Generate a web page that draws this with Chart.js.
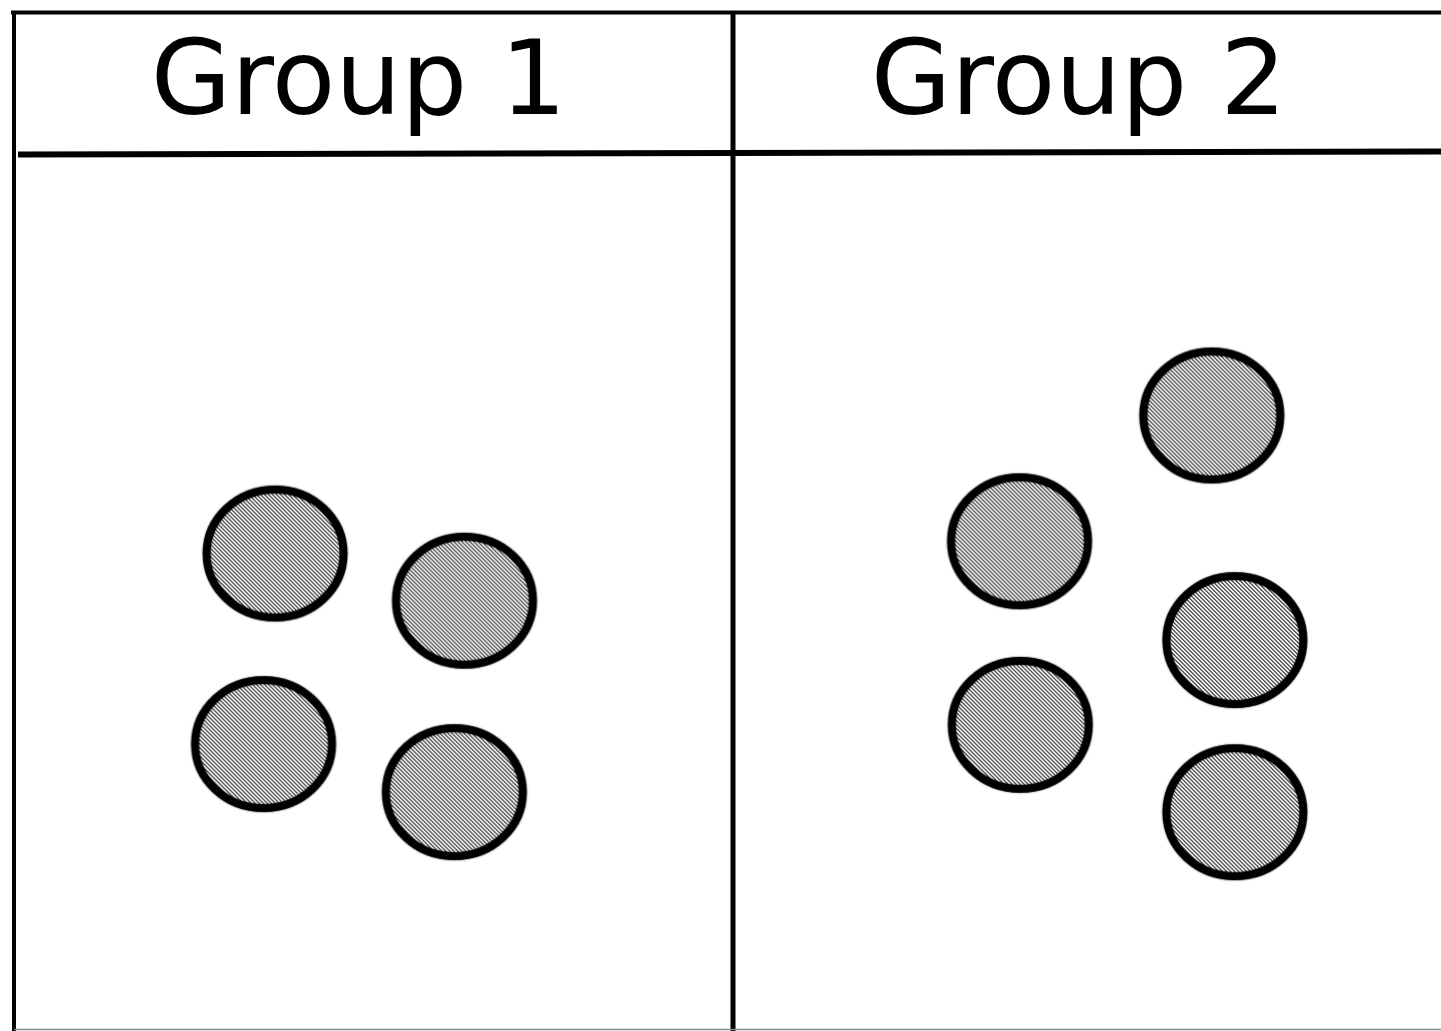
<!DOCTYPE html>
<html>
<head>
<meta charset="utf-8">
<script src="https://cdn.jsdelivr.net/npm/chart.js@4/dist/chart.umd.min.js"></script>
<style>
  html, body { margin: 0; padding: 0; background: #fff; overflow: hidden; }
  #wrap { width: 1441px; height: 1031px; position: relative; }
</style>
</head>
<body>
<div id="wrap"><canvas id="myChart"></canvas></div>
<script>
// Group headers
const groups = ['Group 1', 'Group 2'];

// Point positions: x is the position inside the group column (0..1), y is height
const group1X = [0.364, 0.627, 0.348, 0.613];
const group1Y = [5.44, 4.90, 3.26, 2.71];
const group2X = [0.665, 0.398, 0.697, 0.399, 0.697];
const group2Y = [7.02, 5.58, 4.45, 3.48, 2.48];

document.addEventListener('DOMContentLoaded', function () {
  // Hatched disc used as the point style
  function makeDisc() {
    const w = 154, h = 146;
    const c = document.createElement('canvas');
    c.width = w; c.height = h;
    const g = c.getContext('2d');

    // 4x4 diagonal hatch tile
    const tile = document.createElement('canvas');
    tile.width = 4; tile.height = 4;
    const tg = tile.getContext('2d');
    const img = tg.createImageData(4, 4);
    for (let y = 0; y < 4; y++) {
      for (let x = 0; x < 4; x++) {
        const i = (y * 4 + x) * 4;
        const on = ((x - y + 8) % 4) < 2;
        const v = on ? 85 : 255;
        img.data[i] = v; img.data[i + 1] = v; img.data[i + 2] = v; img.data[i + 3] = 255;
      }
    }
    tg.putImageData(img, 0, 0);

    g.beginPath();
    g.ellipse(w / 2, h / 2, 68.5, 64, 0, 0, Math.PI * 2);
    g.fillStyle = g.createPattern(tile, 'repeat');
    g.fill();
    g.lineWidth = 8;
    g.strokeStyle = '#000';
    g.shadowColor = 'rgba(0,0,0,0.5)';
    g.shadowBlur = 2;
    g.stroke();
    return c;
  }
  const disc = makeDisc();

  const toPoints = (xs, ys, offset) => xs.map((x, i) => ({ x: offset + x, y: ys[i] }));

  // Frame, header row, divider and header labels
  const framePlugin = {
    id: 'framePlugin',
    beforeDatasetsDraw(chart) {
      const ctx = chart.ctx;
      const xs = chart.scales.x;
      const area = chart.chartArea;
      const W = chart.width, H = chart.height;
      ctx.save();
      ctx.strokeStyle = '#000';

      // outer frame (top + left)
      ctx.lineWidth = 4;
      ctx.beginPath();
      ctx.moveTo(11, 12.5);
      ctx.lineTo(W, 12.5);
      ctx.moveTo(14, 10.5);
      ctx.lineTo(14, H);
      ctx.stroke();

      // header separator
      ctx.lineWidth = 6;
      ctx.beginPath();
      ctx.moveTo(18, area.top - 0.5);
      ctx.lineTo(W, area.top - 3.5);
      ctx.stroke();

      // column divider
      const dx = xs.getPixelForValue(1);
      ctx.lineWidth = 5;
      ctx.beginPath();
      ctx.moveTo(dx, 12);
      ctx.lineTo(dx, H);
      ctx.stroke();

      // bottom edge
      ctx.strokeStyle = '#888';
      ctx.lineWidth = 1.5;
      ctx.beginPath();
      ctx.moveTo(14, H - 1.5);
      ctx.lineTo(W, H - 1.5);
      ctx.stroke();

      // headers
      ctx.fillStyle = '#000';
      ctx.font = '104px "DejaVu Sans", Verdana, sans-serif';
      ctx.textAlign = 'center';
      ctx.textBaseline = 'alphabetic';
      groups.forEach((label, i) => {
        ctx.fillText(label, xs.getPixelForValue(i + 0.48), 114);
      });
      ctx.restore();
    }
  };

  const ctx = document.getElementById('myChart').getContext('2d');
  new Chart(ctx, {
    type: 'scatter',
    data: {
      datasets: [
        {
          label: groups[0],
          data: toPoints(group1X, group1Y, 0),
          pointStyle: disc,
          pointRadius: 70,
          pointHoverRadius: 70
        },
        {
          label: groups[1],
          data: toPoints(group2X, group2Y, 1),
          pointStyle: disc,
          pointRadius: 70,
          pointHoverRadius: 70
        }
      ]
    },
    options: {
      responsive: true,
      maintainAspectRatio: false,
      animation: false,
      layout: { autoPadding: false, padding: { left: 13, top: 155, right: 0, bottom: 2 } },
      plugins: {
        legend: { display: false },
        tooltip: { enabled: false },
        title: { display: false }
      },
      scales: {
        x: { type: 'linear', min: 0, max: 1428 / 720, display: false },
        y: { type: 'linear', min: 0, max: 10, display: false }
      }
    },
    plugins: [framePlugin]
  });
});
</script>
</body>
</html>
